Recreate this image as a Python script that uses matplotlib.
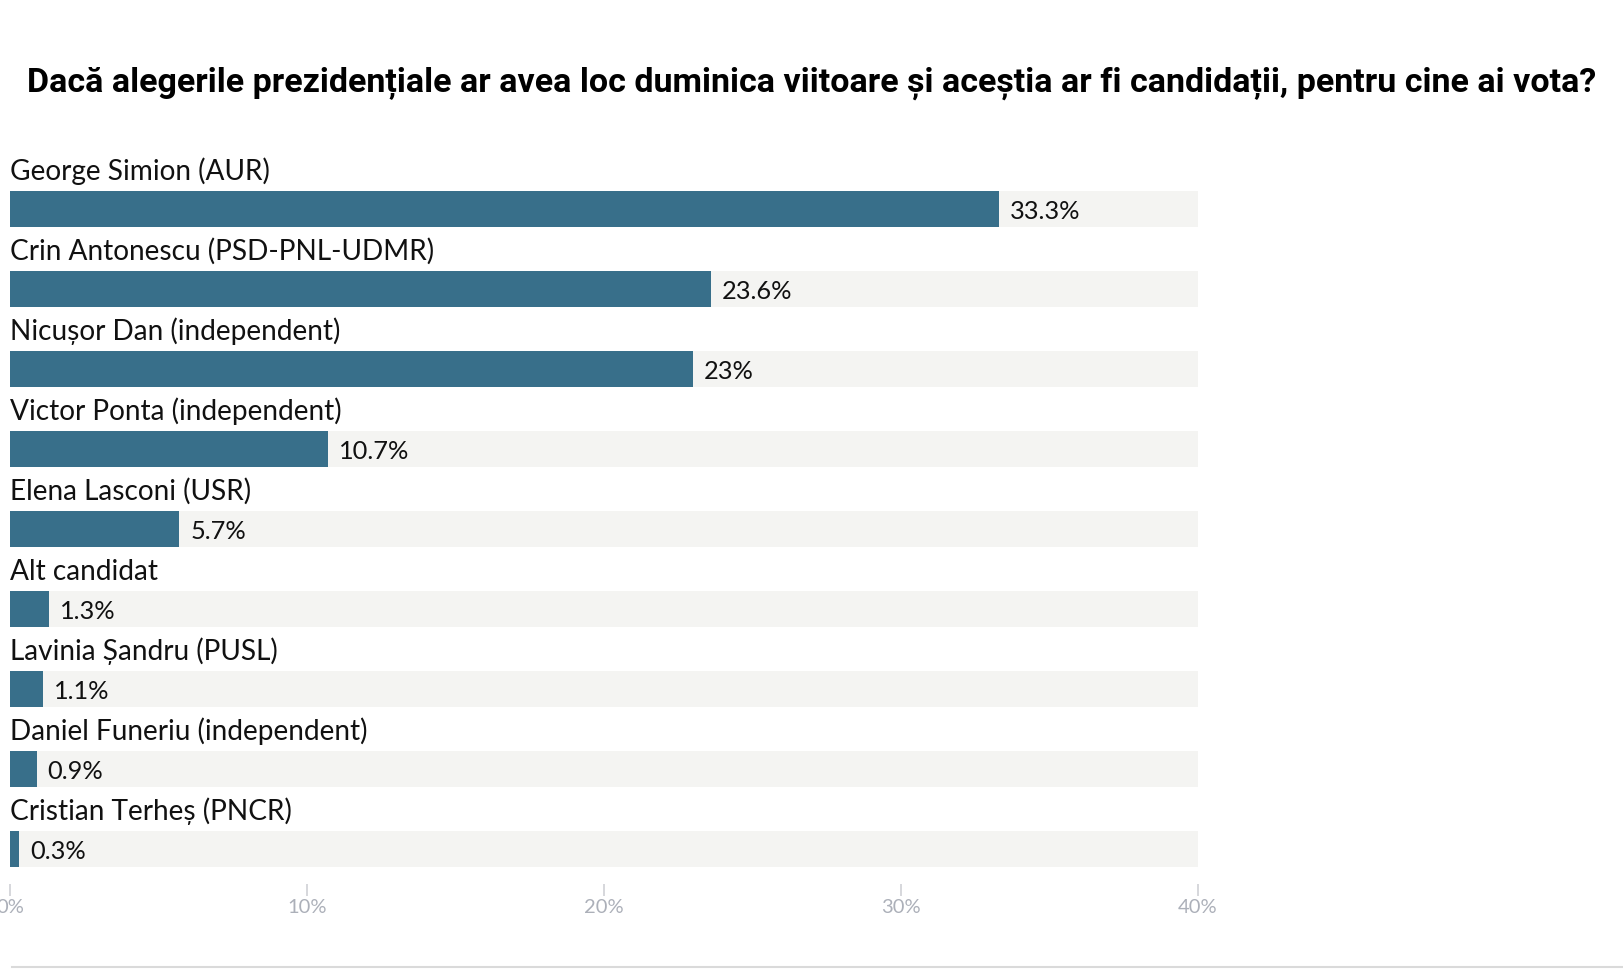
import matplotlib
matplotlib.use("Agg")
import matplotlib.pyplot as plt
from matplotlib.lines import Line2D

candidates = [
    "George Simion (AUR)",
    "Crin Antonescu (PSD-PNL-UDMR)",
    "Nicușor Dan (independent)",
    "Victor Ponta (independent)",
    "Elena Lasconi (USR)",
    "Alt candidat",
    "Lavinia Șandru (PUSL)",
    "Daniel Funeriu (independent)",
    "Cristian Terheș (PNCR)",
]
values = [33.3, 23.6, 23, 10.7, 5.7, 1.3, 1.1, 0.9, 0.3]
value_labels = ["33.3%", "23.6%", "23%", "10.7%", "5.7%", "1.3%", "1.1%", "0.9%", "0.3%"]
xticks = [0, 10, 20, 30, 40]
xtick_labels = ["0%", "10%", "20%", "30%", "40%"]
title = ("Dacă alegerile prezidențiale ar avea loc duminica viitoare și aceștia "
         "ar fi candidații, pentru cine ai vota?")

W, H = 1623, 974
DPI = 100
fig = plt.figure(figsize=(W / DPI, H / DPI), dpi=DPI)
fig.patch.set_facecolor("white")

BAR = "#386f8a"
BG = "#f4f4f2"

# axes geometry in pixels
left_px, right_px = 10, 1198
top_px, bot_px = 169, 884
pitch = 80.0
ax = fig.add_axes([left_px / W, (H - bot_px) / H, (right_px - left_px) / W, (bot_px - top_px) / H])
ax.set_xlim(0, 40)
ax.set_ylim(-0.5 + (bot_px - top_px) / pitch, -0.5)
ax.set_facecolor("none")
for s in ax.spines.values():
    s.set_visible(False)

ypos = list(range(len(values)))
bh = 36 / pitch
ax.barh(ypos, [40] * len(values), height=bh, color=BG, left=0, zorder=1)
ax.barh(ypos, values, height=bh, color=BAR, zorder=2)

for y, name, v, vl in zip(ypos, candidates, values, value_labels):
    ax.text(0, y - bh / 2 - 11 / pitch, name, ha="left", va="baseline",
            fontfamily="Lato", fontsize=20.2, color="#111111", clip_on=False)
    ax.annotate(vl, xy=(v, y + 10 / pitch), xytext=(11 * 72 / DPI, 0),
                textcoords="offset points", ha="left", va="baseline",
                fontfamily="Lato", fontsize=18.3, color="#111111", zorder=3)

ax.set_yticks([])
ax.set_xticks(xticks)
ax.set_xticklabels(xtick_labels, fontfamily="Lato", fontsize=14.5, color="#acb0b9")
ax.tick_params(axis="x", direction="out", length=12 * 72 / DPI, width=1.2,
               color="#cfd1d5", pad=2)

fig.text(0.5, 1 - 92 / H, title, ha="center", va="baseline",
         fontfamily="Roboto", fontweight="bold", fontsize=24.5, color="#000000")

fig.add_artist(Line2D([12 / W, 1.0], [1 - 967 / H, 1 - 967 / H],
                      transform=fig.transFigure, color="#dadada", lw=1.5))

fig.savefig("out.png", dpi=DPI, facecolor="white")
